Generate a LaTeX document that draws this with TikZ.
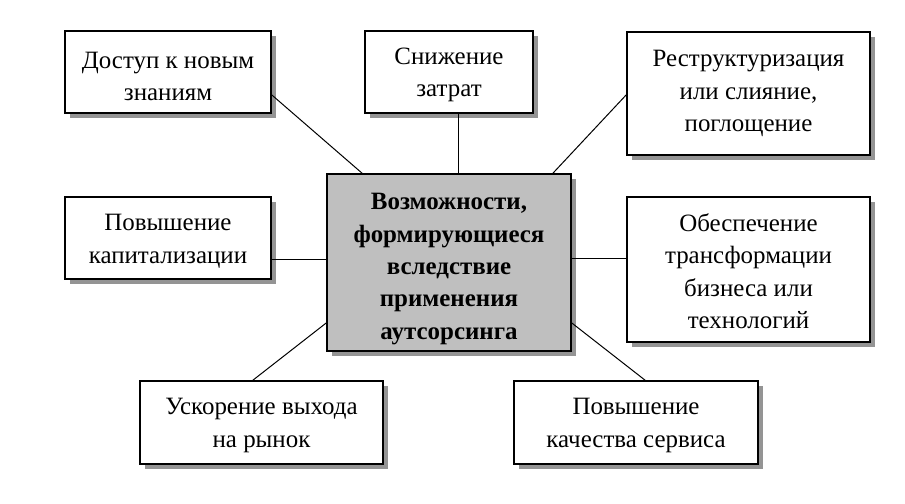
\documentclass[tikz,border=0pt]{standalone}
\usepackage{fontspec}
\setmainfont{Liberation Serif}
\usetikzlibrary{shadows}
\begin{document}
\begin{tikzpicture}[x=0.75pt,y=-0.75pt,
  box/.style={draw=black, line width=1.3pt, fill=white, align=center, inner sep=0pt,
    font=\fontsize{18.7}{24.3}\selectfont,
    drop shadow={shadow xshift=3.75pt, shadow yshift=-3.75pt, fill=black!42, opacity=1}},
  cbox/.style={box, fill=black!25, font=\fontsize{18.7}{24.3}\selectfont\bfseries},
  link/.style={draw=black, line width=0.75pt}]
\useasboundingbox[fill=white] (0,0) rectangle (905,503);
\node[box, minimum width=154.5pt, minimum height=61.5pt] (acc) at (168,72) {\rule{0pt}{19pt}Доступ к новым\\знаниям};
\node[box, minimum width=126pt, minimum height=61.5pt] (cost) at (449,72) {\rule{0pt}{17pt}Снижение\\затрат};
\node[box, minimum width=182.25pt, minimum height=92.25pt] (restr) at (748.5,93.5) {Реструктуризация\\или слияние,\\поглощение};
\node[cbox, minimum width=183pt, minimum height=132.75pt] (cen) at (449,262.5) {\rule{0pt}{22pt}Возможности,\\формирующиеся\\вследствие\\применения\\аутсорсинга};
\node[box, minimum width=154.5pt, minimum height=61.5pt] (cap) at (168,238) {\rule{0pt}{17pt}Повышение\\капитализации};
\node[box, minimum width=182.25pt, minimum height=108.75pt] (trans) at (748.5,269.5) {\rule{0pt}{16pt}Обеспечение\\трансформации\\бизнеса или\\технологий};
\node[box, minimum width=182.25pt, minimum height=62.25pt] (accel) at (261.5,422.5) {\rule{0pt}{17pt}Ускорение выхода\\на рынок};
\node[box, minimum width=183pt, minimum height=62.25pt] (serv) at (636,422.5) {\rule{0pt}{17pt}Повышение\\качества сервиса};
\draw[link] ([yshift=-17.25pt]acc.east) -- ([xshift=-65.25pt]cen.north);
\draw[link] ([xshift=6.75pt]cost.south) -- ([xshift=6.75pt]cen.north);
\draw[link] ([yshift=-1.1pt]restr.west) -- ([xshift=78pt]cen.north);
\draw[link] ([yshift=-15.75pt]cap.east) -- ([yshift=-15.75pt]cap.east -| cen.west);
\draw[link] ([yshift=7.9pt]trans.west) -- ([yshift=7.9pt]trans.west -| cen.east);
\draw[link] ([xshift=-6.4pt]accel.north) -- ([yshift=-45.4pt]cen.west);
\draw[link] ([yshift=-45.4pt]cen.east) -- ([xshift=6.75pt]serv.north);
\end{tikzpicture}
\end{document}
